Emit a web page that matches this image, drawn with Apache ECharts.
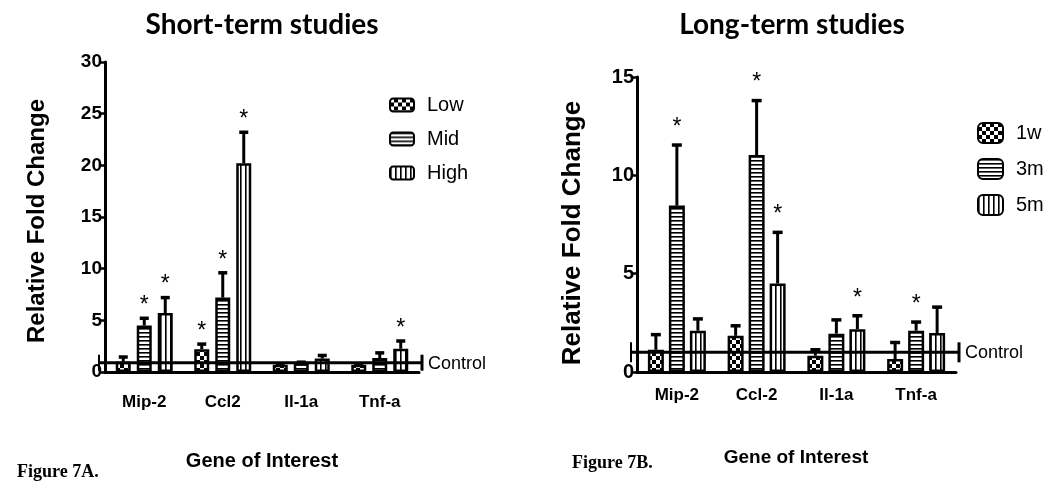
<!DOCTYPE html>
<html><head><meta charset="utf-8">
<script src="https://cdn.jsdelivr.net/npm/echarts@6/dist/echarts.min.js"></script>
<style>html,body{margin:0;padding:0;background:#fff}#c{width:1050px;height:487px}</style>
</head><body><div id="c"></div>
<script>
// ---------- Data: Figure 7A (short-term) ----------
const categoriesA = ['Mip-2', 'Ccl2', 'Il-1a', 'Tnf-a'];
const seriesNamesA = ['Low', 'Mid', 'High'];
const lowA  = [1.0, 2.2, 0.7, 0.7];
const midA  = [4.5, 7.2, 0.85, 1.35];
const highA = [5.7, 20.2, 1.3, 2.25];
const lowErrA  = [0.45, 0.5, 0.1, 0.05];
const midErrA  = [0.7, 2.4, 0.1, 0.5];
const highErrA = [1.5, 3.0, 0.3, 0.75];
const lowSigA  = [false, true, false, false];
const midSigA  = [true, true, false, false];
const highSigA = [true, true, false, true];
const controlA = 0.9;
const yMaxA = 30, yStepA = 5;

// ---------- Data: Figure 7B (long-term) ----------
const categoriesB = ['Mip-2', 'Ccl-2', 'Il-1a', 'Tnf-a'];
const seriesNamesB = ['1w', '3m', '5m'];
const w1B = [1.13, 1.84, 0.83, 0.66];
const m3B = [8.46, 11.03, 1.95, 2.1];
const m5B = [2.1, 4.5, 2.18, 1.98];
const w1ErrB = [0.77, 0.51, 0.3, 0.84];
const m3ErrB = [3.08, 2.77, 0.7, 0.44];
const m5ErrB = [0.6, 2.6, 0.68, 1.32];
const w1SigB = [false, false, false, false];
const m3SigB = [true, true, false, true];
const m5SigB = [false, true, true, false];
const controlB = 1;
const yMaxB = 15, yStepB = 5;

// ---------- Patterns ----------
function tile(w, h, draw) {
  const c = document.createElement('canvas'); c.width = w; c.height = h;
  const g = c.getContext('2d'); g.fillStyle = '#fff'; g.fillRect(0, 0, w, h);
  g.fillStyle = '#000'; draw(g); return c;
}
const checkTile = tile(8, 8, g => { g.fillRect(4, 0, 4, 4); g.fillRect(0, 4, 4, 4); });
const hTile = tile(4, 4, g => { g.fillRect(0, 0, 4, 1.6); });
const vTile = tile(5, 5, g => { g.fillRect(0, 0, 1.6, 5); });
const patterns = [checkTile, hTile, vTile].map(t => ({ image: t, repeat: 'repeat' }));

const NARROW = '"Liberation Sans Narrow", "Arial Narrow", "Liberation Sans", sans-serif';
const SANS = '"Liberation Sans", Arial, sans-serif';

function errRender(offset, capHalf, astGap) {
  return function (params, api) {
    const i = api.value(0);
    const p0 = api.coord([i, api.value(1)]);
    const p1 = api.coord([i, api.value(2)]);
    const x = p0[0] + offset;
    const ch = [
      { type: 'line', shape: { x1: x, y1: p0[1], x2: x, y2: p1[1] }, style: { stroke: '#000', lineWidth: 3 } },
      { type: 'line', shape: { x1: x - capHalf, y1: p1[1], x2: x + capHalf, y2: p1[1] }, style: { stroke: '#000', lineWidth: 3.5 } }
    ];
    if (api.value(3)) {
      ch.push({ type: 'text', style: { text: '*', x: x, y: p1[1] - astGap, align: 'center', verticalAlign: 'bottom', font: '23px ' + SANS, fill: '#000' } });
    }
    return { type: 'group', children: ch };
  };
}

function ctrlRender(endHalf) {
  return function (params, api) {
    const cs = params.coordSys;
    const y = api.coord([0, api.value(1)])[1];
    const x0 = cs.x, x1 = cs.x + cs.width + 3;
    return { type: 'group', children: [
      { type: 'line', shape: { x1: x0 - 6, y1: y, x2: x1, y2: y }, style: { stroke: '#000', lineWidth: 3 } },
      { type: 'line', shape: { x1: x0 - 6, y1: y - endHalf, x2: x0 - 6, y2: y + endHalf }, style: { stroke: '#000', lineWidth: 2 } },
      { type: 'line', shape: { x1: x1, y1: y - endHalf, x2: x1, y2: y + endHalf }, style: { stroke: '#000', lineWidth: 3 } },
      { type: 'text', style: { text: 'Control', x: x1 + 6, y: y + 1, align: 'left', verticalAlign: 'middle', font: '18px ' + NARROW, fill: '#000' } }
    ] };
  };
}

function buildPanel(gi, names, values, errs, sigs, control, barW, gapPx, capHalf, astGap, endHalf) {
  const out = [];
  names.forEach((n, k) => {
    out.push({
      type: 'bar', name: n, xAxisIndex: gi, yAxisIndex: gi, data: values[k],
      barWidth: barW, barGap: (gapPx / barW * 100) + '%',
      itemStyle: { color: patterns[k], borderColor: '#000', borderWidth: 2.5 },
      emphasis: { disabled: true }, animation: false
    });
  });
  names.forEach((n, k) => {
    const offset = (k - 1) * (barW + gapPx);
    out.push({
      type: 'custom', xAxisIndex: gi, yAxisIndex: gi, renderItem: errRender(offset, capHalf, astGap),
      data: values[k].map((v, i) => [i, v, v + errs[k][i], sigs[k][i] ? 1 : 0]),
      encode: { x: 0, y: [1, 2] }, z: 3, silent: true, animation: false, clip: false
    });
  });
  out.push({
    type: 'custom', xAxisIndex: gi, yAxisIndex: gi, renderItem: ctrlRender(endHalf),
    data: [[0, control]], encode: { x: 0, y: 1 }, z: 4, silent: true, animation: false, clip: false
  });
  return out;
}

function xAxisCfg(gi, cats, margin) {
  return {
    type: 'category', gridIndex: gi, data: cats,
    axisLine: { lineStyle: { color: '#000', width: 3 } },
    axisTick: { alignWithLabel: true, length: 8, lineStyle: { color: '#000', width: 2.5 } },
    axisLabel: { color: '#000', fontWeight: 'bold', fontSize: 17, fontFamily: NARROW, margin: margin },
    splitLine: { show: false }
  };
}
function yAxisCfg(gi, max, step, fs) {
  return {
    type: 'value', gridIndex: gi, min: 0, max: max, interval: step,
    axisLine: { show: true, lineStyle: { color: '#000', width: 3 } },
    axisTick: { show: true, length: 6, lineStyle: { color: '#000', width: 2.5 } },
    axisLabel: { color: '#000', fontWeight: 'bold', fontSize: fs, fontFamily: NARROW, margin: 3 },
    splitLine: { show: false }
  };
}

const legendBase = {
  orient: 'vertical', selectedMode: false, padding: 0, itemGap: 14,
  textStyle: { color: '#000', fontSize: 20, fontFamily: NARROW, lineHeight: 20, padding: [0, 0, 0, 8] }
};

const chart = echarts.init(document.getElementById('c'), null, { renderer: 'canvas' });
chart.setOption({
  backgroundColor: '#fff',
  animation: false,
  grid: [
    { left: 105, top: 62, width: 314, height: 310 },
    { left: 637, top: 77, width: 319, height: 295 }
  ],
  xAxis: [xAxisCfg(0, categoriesA, 22), xAxisCfg(1, categoriesB, 15)],
  yAxis: [yAxisCfg(0, yMaxA, yStepA, 19), yAxisCfg(1, yMaxB, yStepB, 20)],
  legend: [
    Object.assign({}, legendBase, { data: seriesNamesA, left: 389, top: 95, itemWidth: 24, itemHeight: 13 }),
    Object.assign({}, legendBase, { data: seriesNamesB, left: 977, top: 122, itemWidth: 25, itemHeight: 20 })
  ],
  series: [].concat(
    buildPanel(0, seriesNamesA, [lowA, midA, highA], [lowErrA, midErrA, highErrA], [lowSigA, midSigA, highSigA], controlA, 15, 6, 4.5, 1, 8),
    buildPanel(1, seriesNamesB, [w1B, m3B, m5B], [w1ErrB, m3ErrB, m5ErrB], [w1SigB, m3SigB, m5SigB], controlB, 16, 5, 5, 6, 10)
  ),
  graphic: [
    { type: 'text', x: 262, y: 25, style: { text: 'Short-term studies', align: 'center', verticalAlign: 'middle', font: 'bold 28px Lato, "Open Sans", sans-serif', fill: '#000' } },
    { type: 'text', x: 792, y: 25, style: { text: 'Long-term studies', align: 'center', verticalAlign: 'middle', font: 'bold 28px Lato, "Open Sans", sans-serif', fill: '#000' } },
    { type: 'text', x: 37, y: 221, rotation: Math.PI / 2, style: { text: 'Relative Fold Change', align: 'center', verticalAlign: 'middle', font: 'bold 24px ' + SANS, fill: '#000' } },
    { type: 'text', x: 573, y: 233, rotation: Math.PI / 2, style: { text: 'Relative Fold Change', align: 'center', verticalAlign: 'middle', font: 'bold 26px ' + SANS, fill: '#000' } },
    { type: 'text', x: 262, y: 461, style: { text: 'Gene of Interest', align: 'center', verticalAlign: 'middle', font: 'bold 20px ' + NARROW, fill: '#000' } },
    { type: 'text', x: 796, y: 458, style: { text: 'Gene of Interest', align: 'center', verticalAlign: 'middle', font: 'bold 19px ' + NARROW, fill: '#000' } },
    { type: 'text', x: 17, y: 472, style: { text: 'Figure 7A.', align: 'left', verticalAlign: 'middle', font: 'bold 18px "Liberation Serif", "Times New Roman", serif', fill: '#000' } },
    { type: 'text', x: 572, y: 463, style: { text: 'Figure 7B.', align: 'left', verticalAlign: 'middle', font: 'bold 18px "Liberation Serif", "Times New Roman", serif', fill: '#000' } }
  ]
});
</script>
</body></html>
